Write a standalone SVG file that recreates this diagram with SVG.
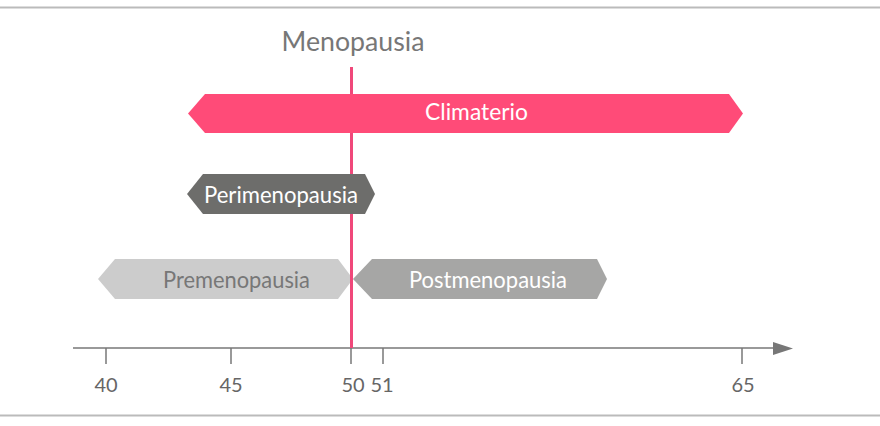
<svg xmlns="http://www.w3.org/2000/svg" width="880" height="426" viewBox="0 0 880 426">
<style>
.lbl{font-family:Lato,"Open Sans",sans-serif;text-anchor:middle}
.tick{stroke:#777;stroke-width:1.5}
.num{font-family:Lato,"Open Sans",sans-serif;font-size:20px;fill:#666;text-anchor:middle}
</style>
<rect width="880" height="426" fill="#fff"/>
<line x1="0" y1="7.5" x2="880" y2="7.5" stroke="#bbb" stroke-width="2"/>
<line x1="0" y1="415.5" x2="880" y2="415.5" stroke="#bbb" stroke-width="2"/>
<text class="lbl" x="353" y="51" font-size="26" fill="#777" textLength="143" lengthAdjust="spacingAndGlyphs">Menopausia</text>
<g id="premenopausia">
<polygon points="98,279 115,259 338,259 353,279 338,299 115,299" fill="#cccccc"/>
<text class="lbl" x="236.5" y="288" font-size="23" fill="#777" textLength="147" lengthAdjust="spacingAndGlyphs">Premenopausia</text>
</g>
<g id="postmenopausia">
<polygon points="353,279 372,259 597,259 607,279 597,299 372,299" fill="#a6a6a5"/>
<text class="lbl" x="488" y="288" font-size="23" fill="#fff" textLength="158" lengthAdjust="spacingAndGlyphs">Postmenopausia</text>
</g>
<g id="connectors">
<line x1="73" y1="348" x2="776" y2="348" stroke="#777" stroke-width="1.5"/>
<polygon points="773,342 793,348.5 773,355" fill="#777"/>
<line class="tick" x1="106" y1="348" x2="106" y2="364"/>
<line class="tick" x1="231" y1="348" x2="231" y2="364"/>
<line class="tick" x1="351" y1="348" x2="351" y2="364"/>
<line class="tick" x1="383" y1="348" x2="383" y2="364"/>
<line class="tick" x1="742" y1="348" x2="742" y2="364"/>
<line x1="351.5" y1="67" x2="351.5" y2="348" stroke="#f0487a" stroke-width="3"/>
</g>
<g id="climaterio">
<polygon points="188,113.5 205,94 729,94 743,113.5 729,133 205,133" fill="#ff4b78"/>
<text class="lbl" x="476.5" y="120" font-size="23" fill="#fff" textLength="103" lengthAdjust="spacingAndGlyphs">Climaterio</text>
</g>
<g id="perimenopausia">
<polygon points="187,194 203,174 365,174 375,194 365,214 203,214" fill="#6d6d6b"/>
<text class="lbl" x="281" y="203" font-size="23" fill="#fff" textLength="154" lengthAdjust="spacingAndGlyphs">Perimenopausia</text>
</g>
<g id="axis-labels">
<text class="num" x="106" y="392">40</text>
<text class="num" x="231" y="392">45</text>
<text class="num" x="353" y="392">50</text>
<text class="num" x="382" y="392">51</text>
<text class="num" x="743" y="392">65</text>
</g>
</svg>
